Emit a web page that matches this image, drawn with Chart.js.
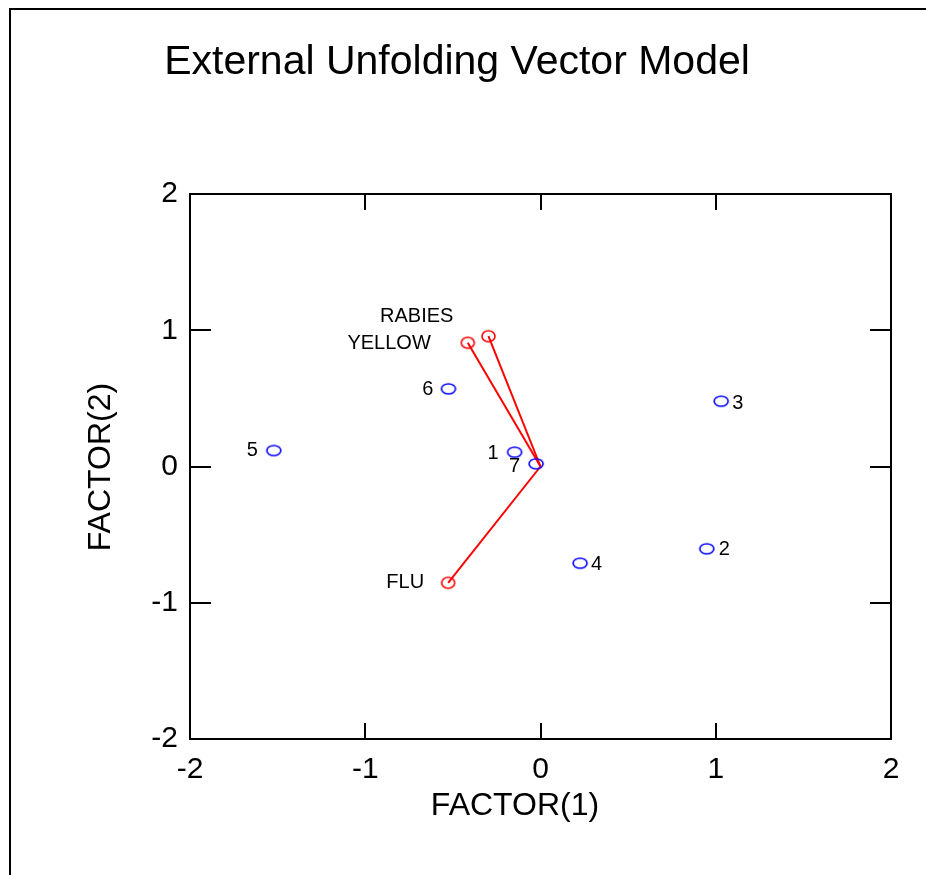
<!DOCTYPE html>
<html>
<head>
<meta charset="utf-8">
<style>
  html, body { margin: 0; padding: 0; background: #fff; }
  canvas { display: block; }
</style>
<script src="https://cdn.jsdelivr.net/npm/chart.js@4.4.1/dist/chart.umd.min.js"></script>
</head>
<body>
<canvas id="unfolding" width="926" height="875"></canvas>
<script>
const subjectLabels = ['1', '2', '3', '4', '5', '6', '7'];
const subjectX = [-0.148, 0.949, 1.031, 0.226, -1.522, -0.525, -0.025];
const subjectY = [0.105, -0.604, 0.479, -0.71, 0.117, 0.57, 0.02];

const vectorLabels = ['RABIES', 'YELLOW', 'FLU'];
const vectorX = [-0.297, -0.415, -0.527];
const vectorY = [0.956, 0.908, -0.854];

const tickValues = [-2, -1, 0, 1, 2];
const tickLabels = ['-2', '-1', '0', '1', '2'];

const FONT = '"Liberation Sans", Arial, Helvetica, sans-serif';

function makeEllipse(w, h, color) {
  const c = document.createElement('canvas');
  c.width = w + 4;
  c.height = h + 4;
  const g = c.getContext('2d');
  g.strokeStyle = color;
  g.lineWidth = 1.6;
  g.beginPath();
  g.ellipse(c.width / 2, c.height / 2, w / 2, h / 2, 0, 0, Math.PI * 2);
  g.stroke();
  return c;
}

const blueMark = makeEllipse(14, 10, '#0000ff');
const redMark = makeEllipse(13, 11, '#ff0000');

// where each point label sits relative to its marker
const labelPlace = {
  '1': [-16, 1, 'right'], '2': [12, 1, 'left'], '3': [11, 2, 'left'],
  '4': [11, 1, 'left'], '5': [-16, 0, 'right'], '6': [-15, 1, 'right'],
  '7': [-16, 3, 'right'],
  'RABIES': [-35, -20, 'right'], 'YELLOW': [-37, 1, 'right'], 'FLU': [-24, 0, 'right']
};

const datasets = [{
  type: 'scatter',
  label: 'subjects',
  data: subjectX.map((x, i) => ({ x: x, y: subjectY[i] })),
  pointStyle: blueMark,
  pointRadius: 6,
  pointLabels: subjectLabels
}];

vectorX.forEach((x, i) => {
  datasets.push({
    type: 'line',
    label: vectorLabels[i],
    data: [{ x: 0, y: 0 }, { x: x, y: vectorY[i] }],
    borderColor: '#ff0000',
    borderWidth: 2,
    pointStyle: redMark,
    pointRadius: [0, 6],
    pointLabels: ['', vectorLabels[i]]
  });
});

const framePlugin = {
  id: 'frame',
  beforeDraw(chart) {
    const ctx = chart.ctx;
    ctx.save();
    ctx.strokeStyle = '#000';
    ctx.lineWidth = 2;
    ctx.beginPath();
    ctx.moveTo(10, 875);
    ctx.lineTo(10, 9);
    ctx.lineTo(926, 9);
    ctx.stroke();

    ctx.fillStyle = '#000';
    ctx.textAlign = 'center';
    ctx.textBaseline = 'middle';
    ctx.font = '41px ' + FONT;
    ctx.fillText('External Unfolding Vector Model', 457, 63);
    ctx.font = '32px ' + FONT;
    ctx.fillText('FACTOR(1)', 515, 806);
    ctx.translate(101, 467);
    ctx.rotate(-Math.PI / 2);
    ctx.fillText('FACTOR(2)', 0, 0);
    ctx.restore();
  },
  afterDatasetsDraw(chart) {
    const ctx = chart.ctx;
    const a = chart.chartArea;
    const xs = chart.scales.x;
    const ys = chart.scales.y;
    ctx.save();
    ctx.strokeStyle = '#000';
    ctx.lineWidth = 2;
    ctx.strokeRect(a.left, a.top, a.right - a.left, a.bottom - a.top);
    ctx.beginPath();
    xs.ticks.forEach(t => {
      if (t.value <= xs.min || t.value >= xs.max) return;
      const px = Math.round(xs.getPixelForValue(t.value));
      ctx.moveTo(px, a.top); ctx.lineTo(px, a.top + 16);
      ctx.moveTo(px, a.bottom); ctx.lineTo(px, a.bottom - 16);
    });
    ys.ticks.forEach(t => {
      if (t.value <= ys.min || t.value >= ys.max) return;
      const py = Math.round(ys.getPixelForValue(t.value));
      ctx.moveTo(a.left, py); ctx.lineTo(a.left + 21, py);
      ctx.moveTo(a.right, py); ctx.lineTo(a.right - 21, py);
    });
    ctx.stroke();

    ctx.fillStyle = '#000';
    ctx.font = '20px ' + FONT;
    ctx.textBaseline = 'middle';
    chart.data.datasets.forEach((ds, di) => {
      const meta = chart.getDatasetMeta(di);
      meta.data.forEach((pt, pi) => {
        const text = ds.pointLabels[pi];
        if (!text) return;
        const p = labelPlace[text] || [10, 0, 'left'];
        ctx.textAlign = p[2];
        ctx.fillText(text, pt.x + p[0], pt.y + p[1]);
      });
    });
    ctx.restore();
  }
};

new Chart(document.getElementById('unfolding'), {
  data: { datasets: datasets },
  options: {
    responsive: false,
    animation: false,
    layout: { padding: { left: 130, right: 35, top: 194, bottom: 76 } },
    plugins: {
      legend: { display: false },
      tooltip: { enabled: false },
      title: { display: false }
    },
    scales: {
      x: {
        type: 'linear',
        min: -2,
        max: 2,
        afterBuildTicks: s => { s.ticks = tickValues.map(v => ({ value: v })); },
        afterFit: s => { s.height = 60; },
        grid: { display: false, drawTicks: false },
        border: { display: false },
        ticks: {
          padding: 13,
          color: '#000',
          font: { family: FONT, size: 30 },
          callback: (v) => tickLabels[tickValues.indexOf(v)]
        }
      },
      y: {
        type: 'linear',
        min: -2,
        max: 2,
        afterBuildTicks: s => { s.ticks = tickValues.map(v => ({ value: v })); },
        afterFit: s => { s.width = 60; },
        grid: { display: false, drawTicks: false },
        border: { display: false },
        ticks: {
          padding: 12,
          color: '#000',
          font: { family: FONT, size: 30 },
          callback: (v) => tickLabels[tickValues.indexOf(v)]
        }
      }
    }
  },
  plugins: [framePlugin]
});
</script>
</body>
</html>
